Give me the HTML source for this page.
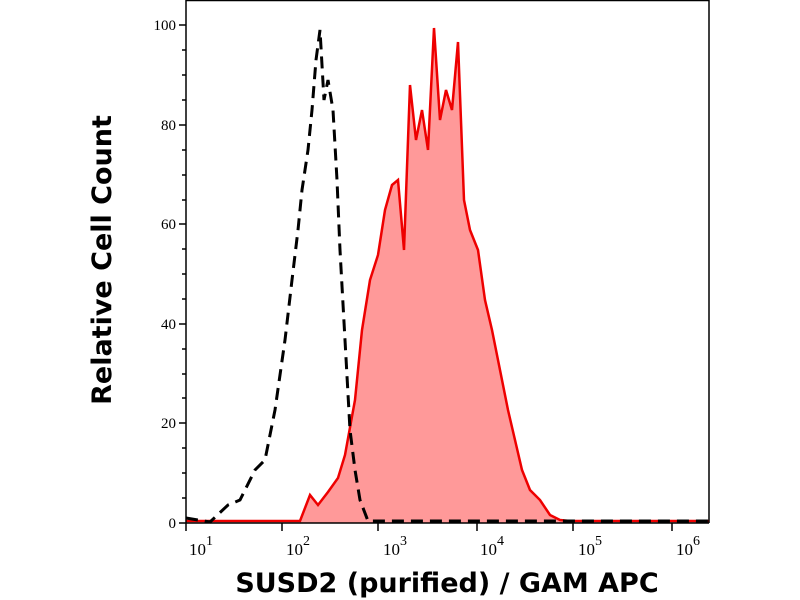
<!DOCTYPE html>
<html><head><style>body{margin:0;background:#fff}svg{display:block}</style></head><body>
<svg width="800" height="600" xmlns="http://www.w3.org/2000/svg">
<rect width="800" height="600" fill="#fff"/>
<path d="M186,523 L300,523 L310,495 L318,505 L328,492 L338,478 L345,455 L355,400 L362,330 L370,280 L378,255 L385,210 L392,185 L398,180 L404,250 L410,85 L416,140 L422,110 L428,150 L434,28 L440,120 L446,90 L452,110 L458,42 L464,200 L470,230 L478,250 L485,300 L492,330 L500,370 L508,410 L515,440 L522,470 L530,490 L540,500 L550,515 L560,520 L570,523 L709,523 Z" fill="#ff9999" stroke="none"/>
<polyline points="186,521 300,521 310,495 318,505 328,492 338,478 345,455 355,400 362,330 370,280 378,255 385,210 392,185 398,180 404,250 410,85 416,140 422,110 428,150 434,28 440,120 446,90 452,110 458,42 464,200 470,230 478,250 485,300 492,330 500,370 508,410 515,440 522,470 530,490 540,500 550,515 560,520 570,521 709,521" fill="none" stroke="#ee0000" stroke-width="2.5"/>
<polyline points="186,518 210,522 228,505 240,500 255,470 265,460 275,410 285,340 292,280 298,230 302,190 308,150 312,110 316,60 320,30 324,100 328,80 333,110 337,180 340,250 345,340 350,430 355,470 360,500 368,521 709,521" fill="none" stroke="#000" stroke-width="3" stroke-dasharray="12,7"/>
<g stroke="#000" stroke-width="1.5" fill="none">
<line x1="186" y1="0" x2="186" y2="523"/>
<line x1="186" y1="523" x2="709" y2="523"/>
<line x1="709" y1="0" x2="709" y2="523"/>
<line x1="186" y1="0.5" x2="709" y2="0.5"/>
<path d="M179,25H186M179,125H186M179,224H186M179,324H186M179,423H186M179,523H186"/>
<path d="M182,50H186M182,75H186M182,100H186M182,150H186M182,175H186M182,200H186M182,249H186M182,274H186M182,299H186M182,349H186M182,374H186M182,398H186M182,448H186M182,473H186M182,498H186"/>
<path d="M282,523V531M378,523V531M477,523V531M573,523V531M672,523V531M186,523V531"/>
</g>
<g font-family="Liberation Serif, serif" font-size="15" fill="#000" text-anchor="end">
<text x="176" y="30">100</text><text x="176" y="130">80</text><text x="176" y="229">60</text><text x="176" y="329">40</text><text x="176" y="428">20</text><text x="176" y="528">0</text>
</g>
<g font-family="Liberation Serif, serif" font-size="17" fill="#000">
<text x="189" y="555">10<tspan dy="-10" font-size="14">1</tspan></text>
<text x="286" y="555">10<tspan dy="-10" font-size="14">2</tspan></text>
<text x="383" y="555">10<tspan dy="-10" font-size="14">3</tspan></text>
<text x="480" y="555">10<tspan dy="-10" font-size="14">4</tspan></text>
<text x="578" y="555">10<tspan dy="-10" font-size="14">5</tspan></text>
<text x="676" y="555">10<tspan dy="-10" font-size="14">6</tspan></text>
</g>
<text x="447" y="592" text-anchor="middle" font-family="DejaVu Sans, sans-serif" font-weight="bold" font-size="27">SUSD2 (purified) / GAM APC</text>
<text transform="translate(111,260) rotate(-90)" text-anchor="middle" font-family="DejaVu Sans, sans-serif" font-weight="bold" font-size="27">Relative Cell Count</text>
</svg>
</body></html>
